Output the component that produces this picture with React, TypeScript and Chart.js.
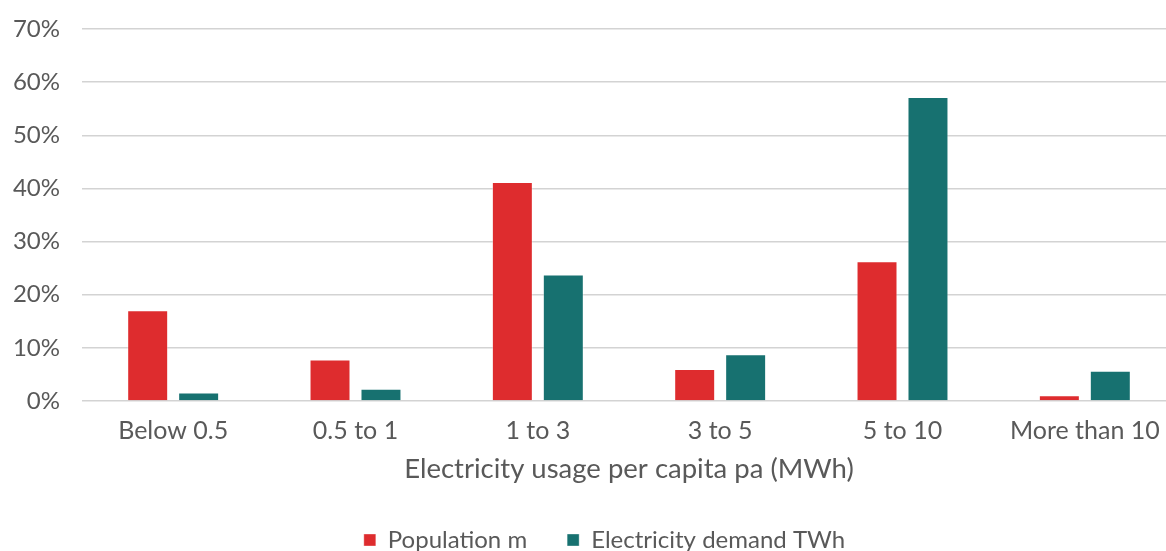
import React, { useEffect, useRef } from "react";
import { Chart, registerables } from "chart.js";

Chart.register(...registerables);

const categories = ["Below 0.5", "0.5 to 1", "1 to 3", "3 to 5", "5 to 10", "More than 10"];
const populationShare = [17.1, 7.8, 41.2, 6.0, 26.3, 1.1];
const demandShare = [1.6, 2.3, 23.8, 8.8, 57.2, 5.7];
const seriesNames = ["Population m", "Electricity demand TWh"];
const xAxisTitle = "Electricity usage per capita pa (MWh)";
const yMin = 0;
const yMax = 70;
const yStep = 10;

const RED = "#DE2C2E";
const TEAL = "#177170";
const TEXT = "#595959";
const GRID = "#D3D3D3";
const FONT = "Lato, 'Open Sans', sans-serif";

export default function App() {
  const canvasRef = useRef<HTMLCanvasElement | null>(null);

  useEffect(() => {
    if (!canvasRef.current) return;
    const chart = new Chart(canvasRef.current, {
      type: "bar",
      data: {
        labels: categories,
        datasets: [
          {
            label: seriesNames[0],
            data: populationShare,
            backgroundColor: RED,
            borderColor: "rgba(255,255,255,0.35)",
            borderWidth: 1,
            categoryPercentage: 0.559,
            barPercentage: 0.804,
          },
          {
            label: seriesNames[1],
            data: demandShare,
            backgroundColor: TEAL,
            borderColor: "rgba(255,255,255,0.35)",
            borderWidth: 1,
            categoryPercentage: 0.559,
            barPercentage: 0.804,
          },
        ],
      },
      options: {
        responsive: false,
        animation: false,
        devicePixelRatio: 1,
        layout: { padding: { top: 29, left: 0, right: 0, bottom: 0 } },
        plugins: {
          tooltip: { enabled: false },
          legend: {
            position: "bottom",
            fullSize: true,
            labels: {
              boxWidth: 12,
              boxHeight: 12,
              padding: 40,
              color: TEXT,
              font: { family: FONT, size: 24 },
            },
          },
        },
        scales: {
          x: {
            grid: { display: false, drawTicks: false },
            border: { display: false },
            ticks: { color: TEXT, padding: 15, font: { family: FONT, size: 25 }, maxRotation: 0 },
            title: {
              display: true,
              text: xAxisTitle,
              color: TEXT,
              font: { family: FONT, size: 27.5 },
              padding: { top: 6, bottom: 2 },
            },
            afterFit: (s: any) => {
              s.height = 87;
            },
          },
          y: {
            min: yMin,
            max: yMax,
            ticks: {
              stepSize: yStep,
              color: TEXT,
              padding: 22,
              font: { family: FONT, size: 24 },
              callback: (v: any) => `${v}%`,
            },
            grid: { color: GRID, lineWidth: 1.5, drawTicks: false },
            border: { display: false },
            afterFit: (s: any) => {
              s.width = 82;
              s.paddingTop = 12;
              s.paddingBottom = 12;
            },
          },
          yPad: {
            position: "right",
            display: true,
            grid: { display: false, drawTicks: false },
            border: { display: false },
            ticks: { display: false },
            afterFit: (s: any) => {
              s.width = 33;
              s.paddingTop = 0;
              s.paddingBottom = 0;
            },
          },
        },
      },
    });
    return () => chart.destroy();
  }, []);

  return (
    <div style={{ position: "fixed", left: 0, top: 0, width: 1166, height: 551, overflow: "hidden", background: "#fff" }}>
      <canvas ref={canvasRef} width={1209} height={562} style={{ width: 1209, height: 562, display: "block" }} />
    </div>
  );
}
